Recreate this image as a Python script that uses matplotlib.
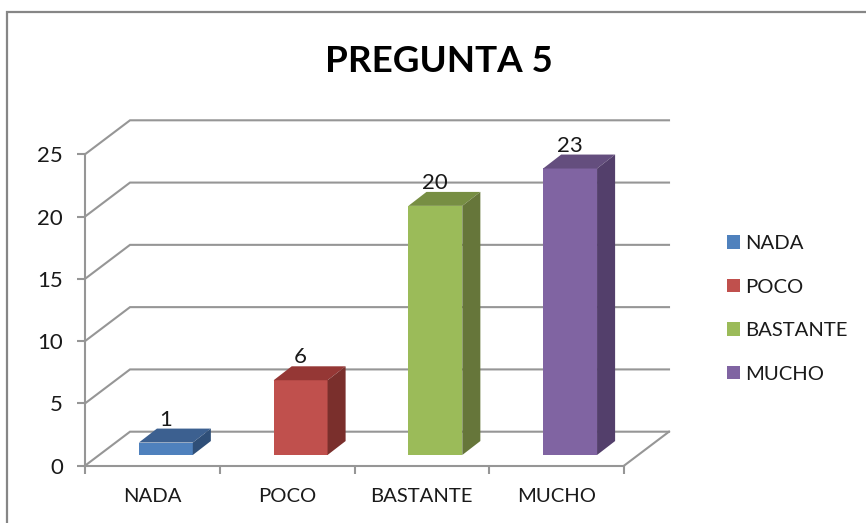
import matplotlib
matplotlib.use("Agg")
import matplotlib.pyplot as plt
from matplotlib.patches import Patch, Rectangle

categories = ["NADA", "POCO", "BASTANTE", "MUCHO"]
values = [1, 6, 20, 23]
y_ticks = [0, 5, 10, 15, 20, 25]
front_colors = ["#4F81BD", "#C0504D", "#9BBB59", "#8064A2"]
top_colors = ["#3C6090", "#953735", "#778E43", "#644E7E"]
side_colors = ["#2F4F78", "#7A2F2C", "#66763A", "#533F6B"]
title = "PREGUNTA 5"

W, H = 866, 523
GRID = "#969696"
TEXT = "#1A1A1A"
plt.rcParams["font.family"] = ["Lato", "DejaVu Sans"]

fig = plt.figure(figsize=(W / 100, H / 100), dpi=100)
# front plane of the fake 3D box, in pixels
left, right, top, bottom = 85, 624, 154.3, 465.7
ax = fig.add_axes([left / W, 1 - bottom / H, (right - left) / W, (bottom - top) / H])
ax.set_xlim(0, 4)
ax.set_ylim(0, 25)
ax.patch.set_visible(False)

# outer chart frame, runs off the right and bottom of the picture
fig.add_artist(Rectangle((7 / W, -0.1), 1.1, 1.1 - 12 / H, transform=fig.transFigure,
                         fill=False, edgecolor="#868686", linewidth=1.6))

# depth of the box and of the bars, in data units
wall_dx, wall_dy = 0.334, 2.73
bar_dx, bar_dy = 0.134, 1.12
off_x, off_y = 0.1, 0.86
bar_w = 0.4

# walls
for v in y_ticks:
    ax.plot([0, wall_dx, 4 + wall_dx], [v, v + wall_dy, v + wall_dy], color=GRID,
            linewidth=1.5, clip_on=False, zorder=1, solid_joinstyle="miter")
ax.plot([4, 4 + wall_dx], [0, wall_dy], color=GRID, linewidth=1.5, clip_on=False, zorder=1)

# bars
for i, v in enumerate(values):
    x0 = i + 0.5 + off_x - bar_w / 2
    x1 = x0 + bar_w
    y0 = off_y
    y1 = off_y + v
    ax.bar(x0, v, width=bar_w, bottom=y0, align="edge", color=front_colors[i],
           linewidth=0, clip_on=False, zorder=3)
    ax.fill([x0, x1, x1 + bar_dx, x0 + bar_dx], [y1, y1, y1 + bar_dy, y1 + bar_dy],
            color=top_colors[i], linewidth=0, clip_on=False, zorder=3)
    ax.fill([x1, x1 + bar_dx, x1 + bar_dx, x1], [y0, y0 + bar_dy, y1 + bar_dy, y1],
            color=side_colors[i], linewidth=0, clip_on=False, zorder=3)
    ax.annotate(str(v), xy=(x0 + bar_w / 2, y1 + bar_dy), xytext=(0, 6.5), textcoords="offset points",
                ha="center", va="center", fontsize=16, color=TEXT, zorder=4)

# axes
for s in ["top", "right"]:
    ax.spines[s].set_visible(False)
for s in ["left", "bottom"]:
    ax.spines[s].set_color(GRID)
    ax.spines[s].set_linewidth(1.5)
ax.set_yticks(y_ticks)
ax.tick_params(axis="y", length=5.8, width=1.5, color=GRID, labelsize=16, labelcolor=TEXT, pad=10)
plt.setp(ax.get_yticklabels(), va="center_baseline")
ax.set_xticks([0, 1, 2, 3, 4])
ax.set_xticklabels([])
ax.tick_params(axis="x", which="major", length=5.8, width=1.5, color=GRID)
ax.set_xticks([i + 0.5 for i in range(4)], minor=True)
ax.set_xticklabels(categories, minor=True)
ax.tick_params(axis="x", which="minor", length=0, labelsize=14.6, labelcolor=TEXT, pad=16)

fig.text(439 / W, 1 - 61 / H, title, ha="center", va="center", fontsize=26.5, fontweight="bold", color="#000000")

# legend
handles = [Patch(facecolor=c, linewidth=0, label=n)
           for c, n in zip(front_colors, categories)]
ax.legend(handles=handles, loc="center left", bbox_to_anchor=(727 / W, 1 - 309 / H),
          bbox_transform=fig.transFigure, frameon=False, fontsize=14.6, labelcolor=TEXT,
          handlelength=0.64, handleheight=0.64, handletextpad=0.25, labelspacing=1.31,
          borderpad=0, borderaxespad=0)

fig.savefig("out.png", dpi=100)
